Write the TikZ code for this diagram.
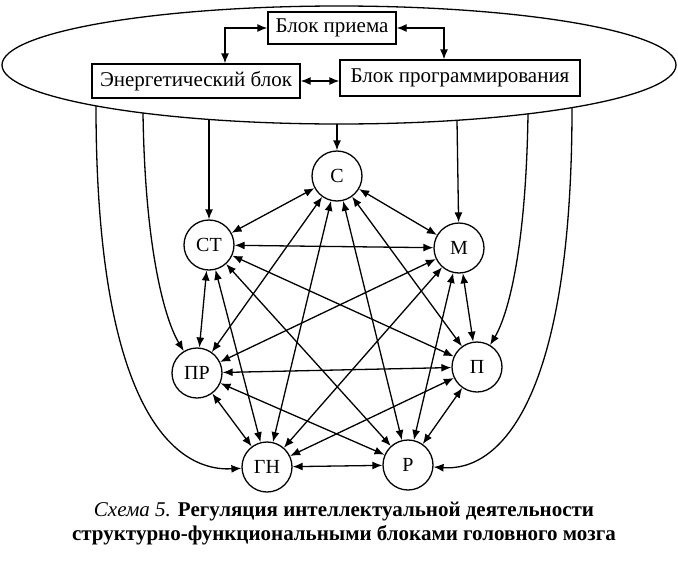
\documentclass[tikz,border=0pt]{standalone}
\usepackage{fontspec}
\setmainfont{Liberation Serif}
\usepackage{xcolor}
\usepackage{tikz}
\usetikzlibrary{shapes.geometric,arrows.meta}

\begin{document}
\begin{tikzpicture}[x=1pt,y=-1pt,line width=1.3pt,
		>={Latex[length=10pt,width=8pt]},
		bloco/.style={draw, inner sep=0pt, font=\fontsize{21}{22}\selectfont},
		zona/.style={draw, circle, minimum size=50pt, inner sep=0pt, font=\fontsize{20}{22}\selectfont}]
		\useasboundingbox (0,0) rectangle (678,568);
		\draw
		node[draw, ellipse, minimum width=674pt, minimum height=118pt, inner sep=0pt] at (339,65) (cerebro) {}
		node[bloco, minimum width=128pt, minimum height=32pt] at (332,28) (rec) {Блок приема}
		node[bloco, minimum width=208pt, minimum height=34pt] at (196,81) (ene) {Энергетический блок}
		node[bloco, minimum width=240pt, minimum height=36pt] at (460,78) (prog) {Блок программирования}
		node[zona] at (337,176) (s) {С}
		node[zona] at (209,245) (st) {СТ}
		node[zona] at (459,248) (m) {М}
		node[zona] at (197,373) (pr) {ПР}
		node[zona] at (477,367) (p) {П}
		node[zona] at (267,467) (gn) {ГН}
		node[zona] at (408,465) (r) {Р}
		node[align=center, font=\fontsize{21}{24}\selectfont] at (344,524) (legenda)
		{\textit{Схема 5.} \textbf{Регуляция интеллектуальной деятельности}\\
			\textbf{структурно-функциональными блоками головного мозга}};
		% saidas da elipse
		\coordinate (e1) at (96,106);
		\coordinate (e2) at (143,113);
		\coordinate (e3) at (209,119);
		\coordinate (e4) at (337,124);
		\coordinate (e5) at (457,120);
		\coordinate (e6) at (528,114);
		\coordinate (e7) at (572,108);
		\coordinate (kl) at (225,28);
		\coordinate (kr) at (444,28);
		% blocos
		\draw[<->] (rec.west) -- (kl) -- (kl |- ene.north);
		\draw[<->] (rec.east) -- (kr) -- (kr |- prog.north);
		\draw[<->] (ene.east) -- (ene.east -| prog.west);
		\draw[->] (e1) .. controls (96,400) and (170,472) .. (gn);
		\draw[->] (e2) .. controls (145,250) and (165,320) .. (pr);
		\draw[->] (e3) -- (st);
		\draw[->] (e4) -- (s);
		\draw[->] (e5) -- (m);
		\draw[->] (e6) .. controls (526,250) and (508,315) .. (p);
		\draw[->] (e7) .. controls (572,400) and (500,472) .. (r);
		% zonas
		\draw[<->] (s) -- (st);
		\draw[<->] (s) -- (m);
		\draw[<->] (s) -- (pr);
		\draw[<->] (s) -- (p);
		\draw[<->] (s) -- (gn);
		\draw[<->] (s) -- (r);
		\draw[<->] (st) -- (m);
		\draw[<->] (st) -- (pr);
		\draw[<->] (st) -- (p);
		\draw[<->] (st) -- (gn);
		\draw[<->] (st) -- (r);
		\draw[<->] (m) -- (pr);
		\draw[<->] (m) -- (p);
		\draw[<->] (m) -- (gn);
		\draw[<->] (m) -- (r);
		\draw[<->] (pr) -- (p);
		\draw[<->] (pr) -- (gn);
		\draw[<->] (pr) -- (r);
		\draw[<->] (p) -- (gn);
		\draw[<->] (p) -- (r);
		\draw[<->] (gn) -- (r);
	\end{tikzpicture}
\end{document}
